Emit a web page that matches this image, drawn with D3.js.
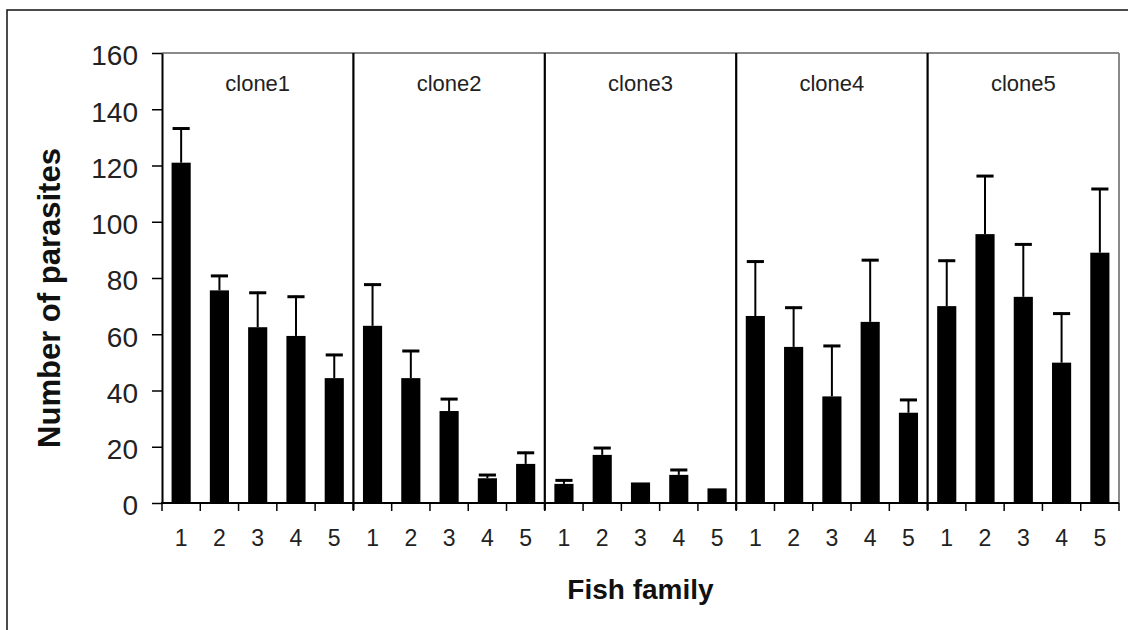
<!DOCTYPE html>
<html>
<head>
<meta charset="utf-8">
<script src="https://cdn.jsdelivr.net/npm/d3@7/dist/d3.min.js"></script>
<style>
  html, body { margin: 0; padding: 0; background: #fff; }
  svg { display: block; font-family: "Liberation Sans", Arial, Helvetica, sans-serif; }
</style>
</head>
<body>
<svg id="chart" width="1128" height="630"></svg>
<script>
// ---- data ----
const clones = ["clone1", "clone2", "clone3", "clone4", "clone5"];
const families = ["1", "2", "3", "4", "5"];
const yTicks = [0, 20, 40, 60, 80, 100, 120, 140, 160];

const clone1Mean = [121, 75.6, 62.5, 59.4, 44.4];
const clone1Err  = [12.5, 5.5, 12.6, 14.3, 8.6];
const clone2Mean = [63, 44.4, 32.7, 8.8, 13.9];
const clone2Err  = [15, 10, 4.6, 1.5, 4.3];
const clone3Mean = [6.8, 17.1, 7.3, 10, 5.2];
const clone3Err  = [1.6, 2.8, 0, 2.1, 0];
const clone4Mean = [66.5, 55.5, 37.9, 64.4, 32.1];
const clone4Err  = [19.7, 14.3, 18.3, 22.3, 4.9];
const clone5Mean = [70, 95.6, 73.3, 49.9, 89];
const clone5Err  = [16.5, 21, 19, 17.8, 23];

const means = [clone1Mean, clone2Mean, clone3Mean, clone4Mean, clone5Mean];
const errs  = [clone1Err, clone2Err, clone3Err, clone4Err, clone5Err];

const rows = [];
clones.forEach((c, ci) => families.forEach((f, fi) => {
  rows.push({ key: c + "-" + f, clone: c, family: f, mean: means[ci][fi], err: errs[ci][fi] });
}));

// ---- layout ----
const svg = d3.select("#chart");
const W = 1128, H = 630;
const plot = { left: 162, right: 1119, top: 53, bottom: 503 };

svg.append("rect").attr("width", W).attr("height", H).attr("fill", "#fff");
// outer frame (extends past the right/bottom edges)
svg.append("rect").attr("x", 7).attr("y", 10).attr("width", W + 20).attr("height", H + 20)
  .attr("fill", "none").attr("stroke", "#111").attr("stroke-width", 1.5);

const y = d3.scaleLinear().domain([0, 160]).range([plot.bottom, plot.top]);
const xPanel = d3.scaleBand().domain(clones).range([plot.left, plot.right]).padding(0);
const x = d3.scaleBand().domain(rows.map(d => d.key)).range([plot.left, plot.right]).padding(0);
const barW = x.bandwidth() * 0.5;

// plot frame: grey top & right
svg.append("line").attr("x1", plot.left).attr("x2", plot.right).attr("y1", plot.top).attr("y2", plot.top)
  .attr("stroke", "#8a8a8a").attr("stroke-width", 2);
svg.append("line").attr("x1", plot.right).attr("x2", plot.right).attr("y1", plot.top).attr("y2", plot.bottom)
  .attr("stroke", "#8a8a8a").attr("stroke-width", 2);

// panel dividers
svg.append("g").selectAll("line").data(clones.slice(1)).join("line")
  .attr("x1", d => xPanel(d)).attr("x2", d => xPanel(d))
  .attr("y1", plot.top).attr("y2", plot.bottom + 7)
  .attr("stroke", "#000").attr("stroke-width", 2.2);

// clone labels
svg.append("g").selectAll("text").data(clones).join("text")
  .attr("x", d => xPanel(d) + xPanel.bandwidth() / 2)
  .attr("y", 91)
  .attr("text-anchor", "middle")
  .attr("font-size", 22)
  .attr("fill", "#222")
  .text(d => d);

// bars
svg.append("g").selectAll("rect").data(rows).join("rect")
  .attr("x", d => x(d.key) + (x.bandwidth() - barW) / 2)
  .attr("y", d => y(d.mean))
  .attr("width", barW)
  .attr("height", d => y(0) - y(d.mean))
  .attr("fill", "#000");

// error bars (upper only)
const eb = svg.append("g").selectAll("g").data(rows.filter(d => d.err > 0)).join("g");
eb.append("line")
  .attr("x1", d => x(d.key) + x.bandwidth() / 2)
  .attr("x2", d => x(d.key) + x.bandwidth() / 2)
  .attr("y1", d => y(d.mean))
  .attr("y2", d => y(d.mean + d.err))
  .attr("stroke", "#000").attr("stroke-width", 2);
eb.append("line")
  .attr("x1", d => x(d.key) + x.bandwidth() / 2 - (barW - 2) / 2)
  .attr("x2", d => x(d.key) + x.bandwidth() / 2 + (barW - 2) / 2)
  .attr("y1", d => y(d.mean + d.err) + 1)
  .attr("y2", d => y(d.mean + d.err) + 1)
  .attr("stroke", "#000").attr("stroke-width", 3);

// y axis
const yAxis = svg.append("g").attr("transform", `translate(${plot.left},0)`)
  .call(d3.axisLeft(y).tickValues(yTicks).tickSize(10).tickPadding(14).tickSizeOuter(0));
yAxis.select(".domain").attr("stroke", "#000").attr("stroke-width", 2);
yAxis.selectAll(".tick line").attr("stroke", "#000").attr("stroke-width", 1.5);
yAxis.selectAll(".tick text").attr("font-size", 28).attr("fill", "#222")
  .attr("font-family", "'Liberation Sans', Arial, sans-serif").attr("dy", "0.42em");

// x axis: baseline, boundary ticks, centre labels
svg.append("line").attr("x1", plot.left - 1).attr("x2", plot.right).attr("y1", plot.bottom).attr("y2", plot.bottom)
  .attr("stroke", "#000").attr("stroke-width", 2);
const bounds = rows.map(d => x(d.key)).concat([plot.right]);
svg.append("g").selectAll("line").data(bounds).join("line")
  .attr("x1", d => d).attr("x2", d => d)
  .attr("y1", plot.bottom).attr("y2", plot.bottom + 8)
  .attr("stroke", "#000").attr("stroke-width", 1.5);
svg.append("g").selectAll("text").data(rows).join("text")
  .attr("x", d => x(d.key) + x.bandwidth() / 2)
  .attr("y", 546)
  .attr("text-anchor", "middle")
  .attr("font-size", 23)
  .attr("fill", "#222")
  .text(d => d.family);

// axis titles
svg.append("text")
  .attr("x", (plot.left + plot.right) / 2).attr("y", 599)
  .attr("text-anchor", "middle").attr("font-size", 28).attr("font-weight", "bold").attr("fill", "#111")
  .text("Fish family");
svg.append("text")
  .attr("transform", "translate(60,298) rotate(-90)")
  .attr("text-anchor", "middle").attr("font-size", 31).attr("font-weight", "bold").attr("fill", "#111")
  .text("Number of parasites");
</script>
</body>
</html>
